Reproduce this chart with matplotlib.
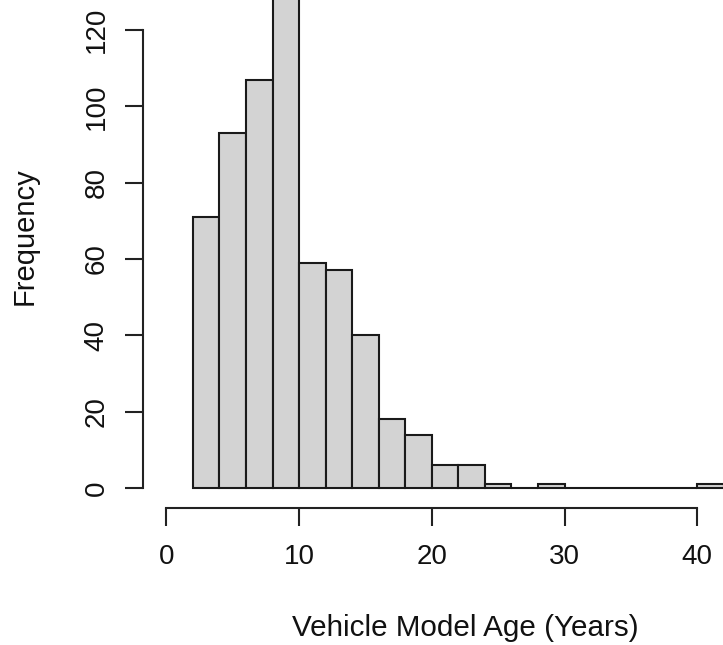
import matplotlib
matplotlib.use("Agg")
import matplotlib.pyplot as plt
import numpy as np

plt.rcParams['font.family'] = ['Liberation Sans', 'DejaVu Sans']

# Histogram data (bin edges, counts)
bin_edges = [2, 4, 6, 8, 10, 12, 14, 16, 18, 20, 22, 24, 26, 28, 30, 32, 34, 36, 38, 40, 42]
counts = [71, 93, 107, 132, 59, 57, 40, 18, 14, 6, 6, 1, 0, 1, 0, 0, 0, 0, 0, 1]
x_ticks = [0, 10, 20, 30, 40]
y_ticks = [0, 20, 40, 60, 80, 100, 120]
xlabel = "Vehicle Model Age (Years)"
ylabel = "Frequency"

W, H = 723, 645
fig = plt.figure(figsize=(W / 100, H / 100), dpi=100)
# axes frame in pixels: x 143..723, y 0..508 (top-down)
ax = fig.add_axes([143 / W, (H - 508) / H, 580 / W, 508 / H])

edges = np.array(bin_edges)
ax.bar(edges[:-1], counts, width=np.diff(edges), align='edge',
       color='#D3D3D3', edgecolor='#1a1a1a', linewidth=1.5)

pxu_x = 13.27
pxu_y = 3.8167
ax.set_xlim(-(166.4 - 143) / pxu_x, (723 - 166.4) / pxu_x)
ax.set_ylim(-(508 - 488) / pxu_y, 488 / pxu_y)

for s in ['top', 'right']:
    ax.spines[s].set_visible(False)
for s in ['left', 'bottom']:
    ax.spines[s].set_linewidth(1.5)
    ax.spines[s].set_color('#222222')
ax.spines['left'].set_bounds(0, 120)
ax.spines['bottom'].set_bounds(0, 40)

ax.set_xticks(x_ticks)
ax.set_yticks(y_ticks)
ax.tick_params(axis='both', direction='out', length=13, width=1.5, color='#222222',
               labelsize=20, labelcolor='#111111')
ax.tick_params(axis='y', pad=11)
ax.tick_params(axis='x', pad=13)
for lab in ax.get_yticklabels():
    lab.set_rotation(90)
    lab.set_va('center')

fig.text(33 / W, 1 - 236 / H, ylabel, rotation=90, rotation_mode='anchor',
         ha='center', va='baseline', fontsize=21, color='#111111')
fig.text(465 / W, 1 - 636 / H, xlabel, ha='center', va='baseline',
         fontsize=21.3, color='#111111')

fig.savefig('out.png', dpi=100)
